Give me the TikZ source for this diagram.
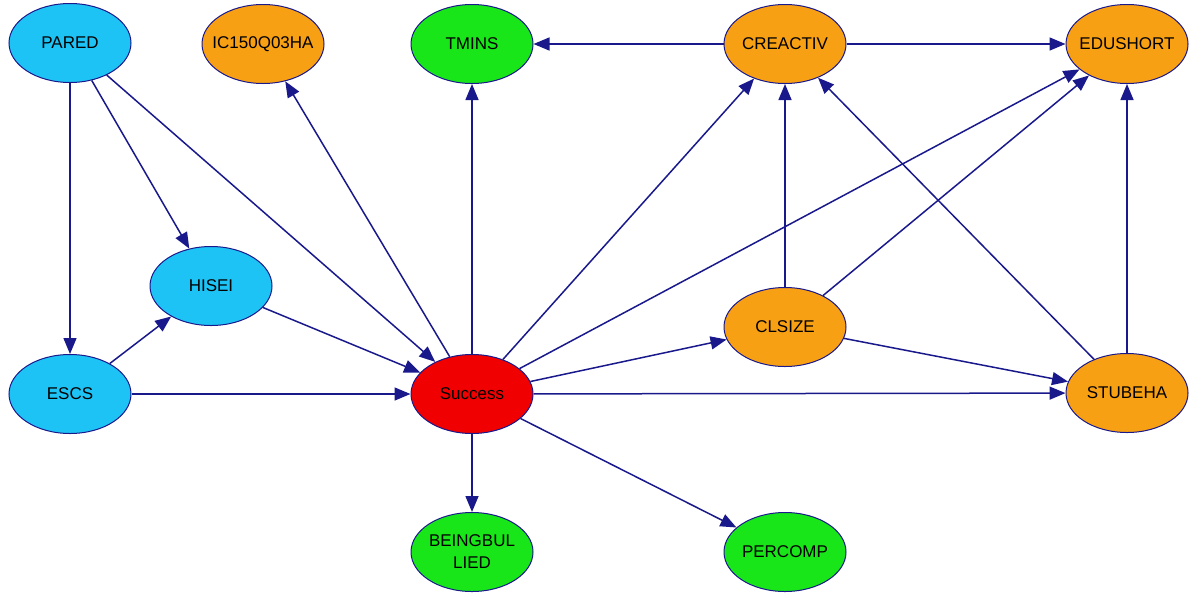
\documentclass[tikz,border=0pt]{standalone}
\usepackage{fontspec}
\setmainfont{Liberation Sans}
\usetikzlibrary{shapes.geometric,arrows.meta}
\definecolor{cyanfill}{RGB}{30,195,245}
\definecolor{orangefill}{RGB}{248,160,20}
\definecolor{greenfill}{RGB}{25,230,25}
\definecolor{redfill}{RGB}{240,0,0}
\definecolor{edgecol}{RGB}{25,25,140}
\tikzset{
  var/.style={ellipse,draw=edgecol,line width=1pt,minimum width=122pt,minimum height=79pt,inner xsep=-10pt,inner ysep=0pt,font=\fontsize{17}{22}\selectfont,text=black},
  cyannode/.style={var,fill=cyanfill},
  orangenode/.style={var,fill=orangefill},
  greennode/.style={var,fill=greenfill},
  rednode/.style={var,fill=redfill},
  link/.style={draw=edgecol,line width=1.5pt,-{Triangle[length=16pt,width=13pt]}}
}
\begin{document}
\begin{tikzpicture}[x=1pt,y=-1pt]
\useasboundingbox (0,0) rectangle (1190,595);
\node[cyannode] (pared) at (70,43) {PARED};
\node[orangenode] (ic) at (263,44) {IC150Q03HA};
\node[greennode] (tmins) at (472,44) {TMINS};
\node[orangenode] (creactiv) at (785,44) {CREACTIV};
\node[orangenode] (edushort) at (1127,44) {EDUSHORT};
\node[cyannode] (hisei) at (211,286) {HISEI};
\node[orangenode] (clsize) at (785,327) {CLSIZE};
\node[cyannode] (escs) at (70,394) {ESCS};
\node[rednode] (success) at (472,394) {Success};
\node[orangenode] (stubeha) at (1127,393) {STUBEHA};
\node[greennode,align=center] (being) at (472,552) {BEINGBUL\\LIED};
\node[greennode] (percomp) at (785,552) {PERCOMP};

\draw[link] (pared) -- (escs);
\draw[link] (pared) -- (hisei);
\draw[link] (pared) -- (success);
\draw[link] (escs) -- (hisei);
\draw[link] (escs) -- (success);
\draw[link] (hisei) -- (success);
\draw[link] (success) -- (ic);
\draw[link] (success) -- (tmins);
\draw[link] (success) -- (creactiv);
\draw[link] (success) -- (edushort);
\draw[link] (success) -- (clsize);
\draw[link] (success) -- (stubeha);
\draw[link] (success) -- (being);
\draw[link] (success) -- (percomp);
\draw[link] (creactiv) -- (tmins);
\draw[link] (creactiv) -- (edushort);
\draw[link] (clsize) -- (creactiv);
\draw[link] (clsize) -- (edushort);
\draw[link] (clsize) -- (stubeha);
\draw[link] (stubeha) -- (creactiv);
\draw[link] (stubeha) -- (edushort);
\end{tikzpicture}
\end{document}
